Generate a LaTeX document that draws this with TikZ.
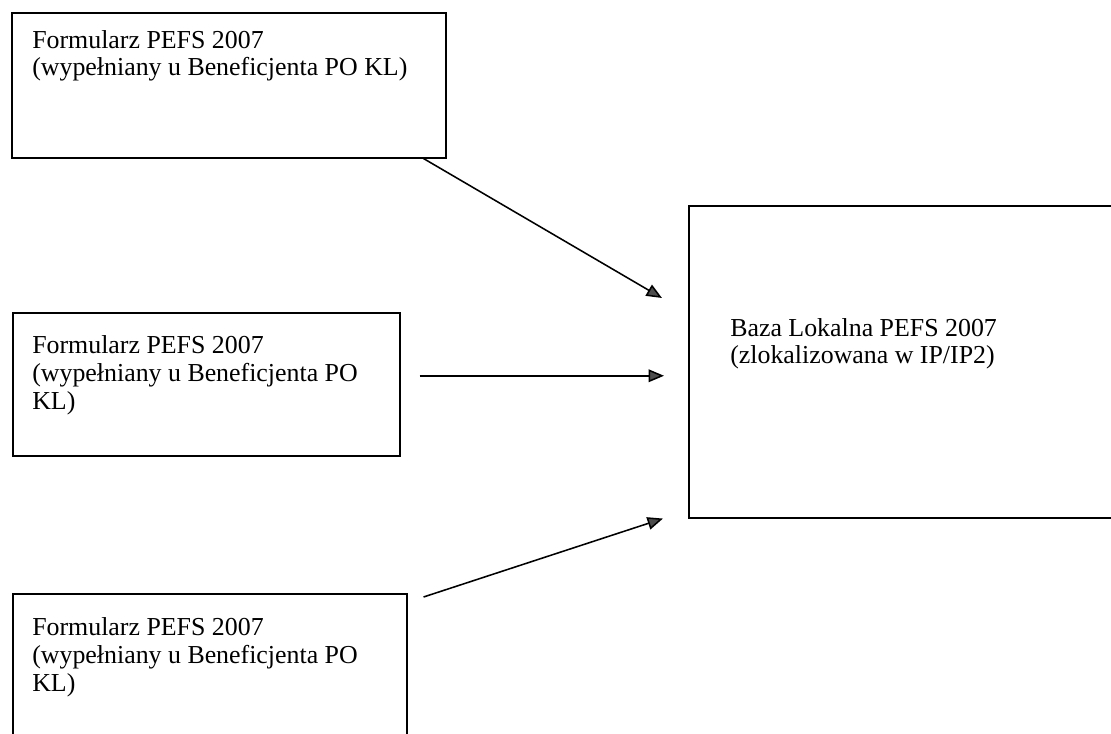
\documentclass[tikz,border=0pt]{standalone}
\usepackage{fontspec}
\setmainfont{Liberation Serif}
\usetikzlibrary{arrows.meta,calc}
\newdimen\px \px=0.025cm
\tikzset{
  box/.style={draw, line width=1.1pt, anchor=north west, inner sep=0pt},
  txt/.style={anchor=base west, align=left, inner sep=0pt,
    font=\fontsize{18.4}{19.9}\selectfont},
  arr/.style={line width=1.1pt, -{Triangle[length=11pt,width=9pt,fill=black!70]}},
}
\begin{document}
\begin{tikzpicture}[x=0.025cm, y=-0.025cm]
\useasboundingbox (0,0) rectangle (1111,734);
\clip (0,0) rectangle (1111,734);
  % forms
  \node[box, minimum width=434\px, minimum height=145\px] (f1) at (11,12) {};
  \node[box, minimum width=387\px, minimum height=143\px] (f2) at (12,312) {};
  \node[box, minimum width=394\px, minimum height=200\px] (f3) at (12,593) {};
  % local database
  \node[box, minimum width=460\px, minimum height=312\px] (baza) at (688,205) {};
  \node[txt] (t1) at ($(f1.north west)+(21,64)$)
    {Formularz PEFS 2007\\(wypełniany u Beneficjenta PO KL)};
  \node[txt] (t2) at ($(f2.north west)+(20,97)$)
    {Formularz PEFS 2007\\(wypełniany u Beneficjenta PO\\KL)};
  \node[txt] (t3) at ($(f3.north west)+(20,98)$)
    {Formularz PEFS 2007\\(wypełniany u Beneficjenta PO\\KL)};
  \node[txt] (tb) at ($(baza.north west)+(42,159)$)
    {Baza Lokalna PEFS 2007\\(zlokalizowana w IP/IP2)};
  \draw[arr] ($(f1.south east)+(-23,0)$) -- ($(baza.north west)+(-26,93)$);
  \draw[arr] ($(f2.east)+(19,-8.5)$) -- ($(baza.west)+(-24,14)$);
  \draw[arr] ($(f3.north east)+(16,4)$) -- ($(baza.south west)+(-25,0)$);
\end{tikzpicture}
\end{document}
